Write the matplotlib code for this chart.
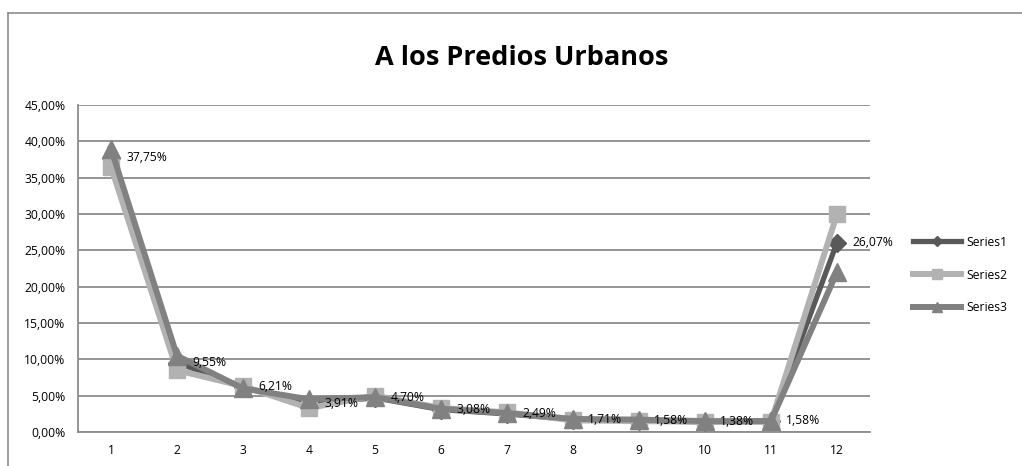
import matplotlib
matplotlib.use("Agg")
import matplotlib.pyplot as plt
from matplotlib.lines import Line2D
from matplotlib.ticker import FuncFormatter, MultipleLocator

plt.rcParams['font.family'] = ['Open Sans', 'DejaVu Sans']

categories = [1, 2, 3, 4, 5, 6, 7, 8, 9, 10, 11, 12]
series1 = [37.75, 9.55, 6.21, 3.91, 4.70, 3.08, 2.49, 1.71, 1.58, 1.38, 1.58, 26.07]
series2 = [36.5, 8.5, 6.3, 3.3, 5.0, 3.3, 2.7, 1.6, 1.5, 1.4, 1.4, 30.0]
series3 = [39.0, 10.5, 6.0, 4.5, 4.8, 3.2, 2.6, 1.8, 1.7, 1.5, 1.5, 22.0]
names = ['Series1', 'Series2', 'Series3']

W, H = 1022, 466
fig = plt.figure(figsize=(W / 100, H / 100), dpi=100)

# chart area border (left + top visible)
fig.add_artist(Line2D([8 / W, 8 / W], [0, 1 - 13 / H], transform=fig.transFigure,
                      color='#8c8c8c', lw=1.2))
fig.add_artist(Line2D([8 / W, 1], [1 - 13 / H, 1 - 13 / H], transform=fig.transFigure,
                      color='#8c8c8c', lw=1.2))

ax = fig.add_axes([78 / W, 1 - 432 / H, (870 - 78) / W, (432 - 105) / H])

grid_c = '#8c8c8c'
ax.set_ylim(0, 45)
ax.set_xlim(0.5, 12.5)
ax.yaxis.set_major_locator(MultipleLocator(5))
ax.yaxis.set_major_formatter(FuncFormatter(lambda v, p: f"{v:.2f}%".replace('.', ',')))
ax.set_xticks(categories)
ax.grid(axis='y', color=grid_c, lw=1.3)
ax.set_axisbelow(True)
for s in ['top', 'right']:
    ax.spines[s].set_visible(False)
for s in ['left', 'bottom']:
    ax.spines[s].set_color(grid_c)
    ax.spines[s].set_linewidth(1.3)
ax.tick_params(axis='both', length=0, labelsize=8.7, colors='black', pad=9)

l1, = ax.plot(categories, series1, color='#595959', lw=3.8, marker='D', ms=9,
              label=names[0], zorder=3)
l2, = ax.plot(categories, series2, color='#b2b2b2', lw=4.3, marker='s', ms=12,
              label=names[1], zorder=4)
l3, = ax.plot(categories, series3, color='#818181', lw=4.3, marker='^', ms=13,
              label=names[2], zorder=5)

for x, v in zip(categories, series1):
    ax.annotate(f"{v:.2f}%".replace('.', ','), (x, v), xytext=(11, 0),
                textcoords='offset points', ha='left', va='center', fontsize=8.7,
                zorder=6)

fig.text(522 / W, 1 - 58 / H, 'A los Predios Urbanos', ha='center', va='center',
         fontsize=19.5, fontweight='bold')

leg = fig.legend([l1, l2, l3], names, loc='center left',
                 bbox_to_anchor=(902 / W, 1 - 275 / H), frameon=False,
                 fontsize=8.7, handlelength=4.0, labelspacing=1.65, markerscale=0.55,
                 handletextpad=0.4)

fig.savefig('out.png', dpi=100)
